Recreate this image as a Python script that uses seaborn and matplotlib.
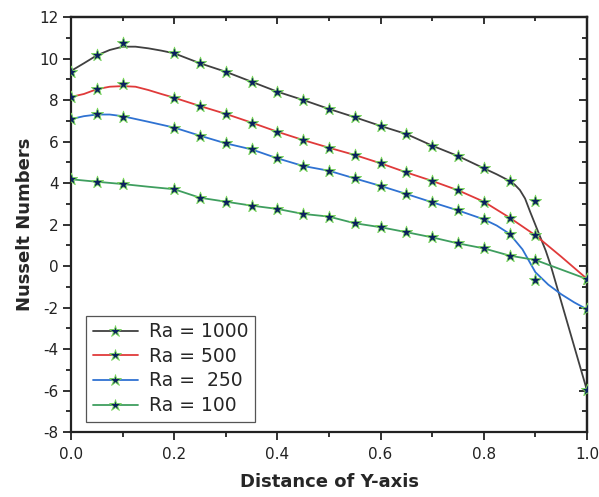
import numpy as np
import pandas as pd
import matplotlib
matplotlib.use("Agg")
import matplotlib.pyplot as plt
from matplotlib.lines import Line2D
from matplotlib.ticker import MultipleLocator
import seaborn as sns

sns.set_style("ticks")
plt.rcParams["font.family"] = ["DejaVu Sans"]
plt.rcParams["axes.unicode_minus"] = False

# ---- data ----
labels = ["Ra = 1000", "Ra = 500", "Ra =  250", "Ra = 100"]
colors = ["#404040", "#e03a3a", "#2f72d2", "#3f9e5f"]

# marker positions
mark_x = [0.0, 0.05, 0.1, 0.2, 0.25, 0.3, 0.35, 0.4, 0.45, 0.5, 0.55, 0.6,
          0.65, 0.7, 0.75, 0.8, 0.85, 0.9, 1.0]
mark_1000 = [9.36, 10.17, 10.76, 10.25, 9.77, 9.36, 8.88, 8.40, 8.00, 7.57,
             7.17, 6.75, 6.36, 5.80, 5.30, 4.71, 4.10, 3.15, -5.98]
mark_500 = [8.15, 8.51, 8.77, 8.11, 7.71, 7.33, 6.91, 6.47, 6.07, 5.70,
            5.35, 4.95, 4.51, 4.10, 3.65, 3.10, 2.33, 1.48, -0.62]
mark_250 = [7.08, 7.31, 7.20, 6.67, 6.28, 5.91, 5.62, 5.19, 4.82, 4.59,
            4.22, 3.86, 3.48, 3.07, 2.68, 2.25, 1.55, -0.69, -2.09]
mark_100 = [4.18, 4.06, 3.95, 3.70, 3.29, 3.10, 2.91, 2.75, 2.51, 2.38,
            2.06, 1.87, 1.63, 1.38, 1.09, 0.85, 0.50, 0.29, -0.63]

# smoothed curve
line_1000_x = [0.0, 0.025, 0.05, 0.075, 0.1, 0.125, 0.15, 0.175, 0.2, 0.25, 0.3,
               0.35, 0.4, 0.45, 0.5, 0.55, 0.6, 0.65, 0.7, 0.75, 0.8, 0.825,
               0.85, 0.86, 0.87, 0.88, 0.89, 0.9, 0.91, 0.92, 0.93, 1.0]
line_1000_y = [9.40, 9.77, 10.15, 10.41, 10.57, 10.57, 10.49, 10.38, 10.25, 9.77,
               9.36, 8.88, 8.40, 8.00, 7.57, 7.17, 6.75, 6.36, 5.80, 5.30, 4.71,
               4.42, 4.10, 3.92, 3.66, 3.25, 2.60, 1.98, 1.36, 0.74, 0.0, -6.0]

line_500_x = [0.0, 0.025, 0.05, 0.075, 0.1, 0.125, 0.15, 0.175, 0.2, 0.25, 0.3,
              0.35, 0.4, 0.45, 0.5, 0.55, 0.6, 0.65, 0.7, 0.75, 0.8, 0.85, 0.9,
              0.95, 1.0]
line_500_y = [8.15, 8.29, 8.52, 8.64, 8.67, 8.64, 8.48, 8.29, 8.11, 7.71, 7.33,
              6.91, 6.47, 6.07, 5.70, 5.35, 4.95, 4.51, 4.10, 3.65, 3.10, 2.33,
              1.48, 0.45, -0.62]

line_250_x = [0.0, 0.025, 0.05, 0.075, 0.1, 0.15, 0.2, 0.25, 0.3, 0.35, 0.4,
              0.45, 0.5, 0.55, 0.6, 0.65, 0.7, 0.75, 0.8, 0.825, 0.85, 0.875,
              0.9, 0.925, 0.95, 0.975, 1.0]
line_250_y = [7.08, 7.22, 7.30, 7.30, 7.22, 6.95, 6.67, 6.28, 5.91, 5.62, 5.19,
              4.82, 4.59, 4.22, 3.86, 3.47, 3.07, 2.68, 2.25, 1.95, 1.55, 0.80,
              -0.30, -0.90, -1.36, -1.75, -2.09]

line_100_x = [0.0, 0.05, 0.1, 0.15, 0.2, 0.25, 0.3, 0.35, 0.4, 0.45, 0.5, 0.55,
              0.6, 0.65, 0.7, 0.75, 0.8, 0.85, 0.9, 1.0]
line_100_y = [4.18, 4.06, 3.95, 3.82, 3.70, 3.29, 3.10, 2.91, 2.75, 2.51, 2.38,
              2.06, 1.87, 1.63, 1.38, 1.09, 0.85, 0.50, 0.29, -0.63]

curves = [(line_1000_x, line_1000_y), (line_500_x, line_500_y),
          (line_250_x, line_250_y), (line_100_x, line_100_y)]
marks = [mark_1000, mark_500, mark_250, mark_100]

star_face = "#0b1f5e"
star_edge = "#7ada5a"

fig = plt.figure(figsize=(5.99, 4.97), dpi=100)
ax = fig.add_axes([0.11853, 0.13078, 0.86144, 0.83501])

for (lx, ly), my, c in zip(curves, marks, colors):
    sns.lineplot(x=lx, y=ly, color=c, lw=1.3, ax=ax, sort=False, zorder=2)
    sns.scatterplot(x=mark_x, y=my, marker="*", s=85, color=star_face,
                    edgecolor=star_edge, linewidth=0.6, ax=ax, zorder=3)

ax.set_xlim(0, 1.0)
ax.set_ylim(-8, 12)
ax.xaxis.set_major_locator(MultipleLocator(0.2))
ax.xaxis.set_minor_locator(MultipleLocator(0.1))
ax.yaxis.set_major_locator(MultipleLocator(2))
ax.yaxis.set_minor_locator(MultipleLocator(1))
ax.set_xticks(np.arange(0, 1.01, 0.2))
ax.set_xticklabels(["0.0", "0.2", "0.4", "0.6", "0.8", "1.0"])

ax.tick_params(which="major", direction="out", length=6, width=1.3,
               labelsize=11, pad=3, color="#222222", labelcolor="#222222")
ax.tick_params(which="minor", direction="out", length=3.5, width=1.3, color="#222222")
ax.tick_params(axis="x", which="major", pad=5)

for sp in ax.spines.values():
    sp.set_linewidth(1.6)
    sp.set_color("#222222")

# top and right axes with inward ticks
secx = ax.secondary_xaxis("top")
secx.xaxis.set_major_locator(MultipleLocator(0.2))
secx.xaxis.set_minor_locator(MultipleLocator(0.1))
secx.tick_params(which="major", direction="in", length=5, width=1.3, labeltop=False, color="#222222")
secx.tick_params(which="minor", direction="in", length=3, width=1.3, color="#222222")
secx.spines["top"].set_linewidth(1.6)
secx.spines["top"].set_color("#222222")

secy = ax.secondary_yaxis("right")
secy.yaxis.set_major_locator(MultipleLocator(2))
secy.yaxis.set_minor_locator(MultipleLocator(1))
secy.tick_params(which="major", direction="in", length=6, width=1.3, labelright=False, color="#222222")
secy.tick_params(which="minor", direction="in", length=3.5, width=1.3, color="#222222")
secy.spines["right"].set_linewidth(1.6)
secy.spines["right"].set_color("#222222")

ax.set_xlabel("Distance of Y-axis", fontsize=13, fontweight="bold", labelpad=8)
ax.set_ylabel("Nusselt Numbers", fontsize=13, fontweight="bold", labelpad=4)

handles = [Line2D([], [], color=c, lw=1.3, marker="*", markersize=9,
                  markerfacecolor=star_face, markeredgecolor=star_edge,
                  markeredgewidth=0.6) for c in colors]
leg = ax.legend(handles, labels, loc="lower left", bbox_to_anchor=(0.029, 0.025),
                borderaxespad=0, fontsize=13.5, frameon=True, fancybox=False,
                edgecolor="#555555", framealpha=1, handlelength=2.4,
                labelspacing=0.3, numpoints=1, handletextpad=0.6,
                borderpad=0.35)
leg.get_frame().set_linewidth(0.9)

fig.savefig("out.png", dpi=100)
